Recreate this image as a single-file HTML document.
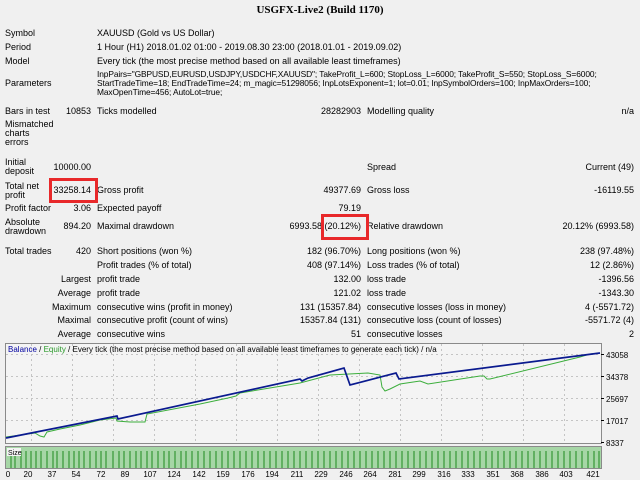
<!DOCTYPE html><html><head><meta charset="utf-8"><style>
body{margin:0;width:640px;height:480px;background:#f0f0f0;font-family:"Liberation Sans",sans-serif;font-size:9px;color:#000;position:relative;overflow:hidden}
.t{position:absolute;white-space:nowrap;line-height:9px}
.r{text-align:right}
.p{font-size:8.4px;letter-spacing:-0.1px}
.box{position:absolute;border:3px solid #e8282a}
</style></head><body>
<div class="t" style="left:0;width:640px;top:6px;text-align:center;font-family:'Liberation Serif',serif;font-weight:bold;font-size:11px">USGFX-Live2 (Build 1170)</div>

<div class="t" style="left:5px;top:29px">Symbol</div><div class="t" style="left:97px;top:29px">XAUUSD (Gold vs US Dollar)</div>
<div class="t" style="left:5px;top:43px">Period</div><div class="t" style="left:97px;top:43px">1 Hour (H1) 2018.01.02 01:00 - 2019.08.30 23:00 (2018.01.01 - 2019.09.02)</div>
<div class="t" style="left:5px;top:57px">Model</div><div class="t" style="left:97px;top:57px">Every tick (the most precise method based on all available least timeframes)</div>
<div class="t" style="left:5px;top:79px">Parameters</div>
<div class="t p" style="left:97px;top:70px">InpPairs="GBPUSD,EURUSD,USDJPY,USDCHF,XAUUSD"; TakeProfit_L=600; StopLoss_L=6000; TakeProfit_S=550; StopLoss_S=6000;</div>
<div class="t p" style="left:97px;top:79px">StartTradeTime=18; EndTradeTime=24; m_magic=51298056; InpLotsExponent=1; lot=0.01; InpSymbolOrders=100; InpMaxOrders=100;</div>
<div class="t p" style="left:97px;top:88px">MaxOpenTime=456; AutoLot=true;</div>

<div class="t" style="left:5px;top:107px">Bars in test</div><div class="t r" style="right:549px;top:107px">10853</div>
<div class="t" style="left:97px;top:107px">Ticks modelled</div><div class="t r" style="right:279px;top:107px">28282903</div>
<div class="t" style="left:367px;top:107px">Modelling quality</div><div class="t r" style="right:6px;top:107px">n/a</div>
<div class="t" style="left:5px;top:120px;line-height:9px">Mismatched<br>charts<br>errors</div>

<div class="t" style="left:5px;top:158px">Initial<br>deposit</div><div class="t r" style="right:549px;top:163px">10000.00</div>
<div class="t" style="left:367px;top:163px">Spread</div><div class="t r" style="right:6px;top:163px">Current (49)</div>

<div class="t" style="left:5px;top:182px">Total net<br>profit</div><div class="t r" style="right:549px;top:186px">33258.14</div>
<div class="t" style="left:97px;top:186px">Gross profit</div><div class="t r" style="right:279px;top:186px">49377.69</div>
<div class="t" style="left:367px;top:186px">Gross loss</div><div class="t r" style="right:6px;top:186px">-16119.55</div>

<div class="t" style="left:5px;top:204px">Profit factor</div><div class="t r" style="right:549px;top:204px">3.06</div>
<div class="t" style="left:97px;top:204px">Expected payoff</div><div class="t r" style="right:279px;top:204px">79.19</div>

<div class="t" style="left:5px;top:218px">Absolute<br>drawdown</div><div class="t r" style="right:549px;top:222px">894.20</div>
<div class="t" style="left:97px;top:222px">Maximal drawdown</div><div class="t r" style="right:279px;top:222px">6993.58 (20.12%)</div>
<div class="t" style="left:367px;top:222px">Relative drawdown</div><div class="t r" style="right:6px;top:222px">20.12% (6993.58)</div>

<div class="t" style="left:5px;top:247px">Total trades</div><div class="t r" style="right:549px;top:247px">420</div>
<div class="t" style="left:97px;top:247px">Short positions (won %)</div><div class="t r" style="right:279px;top:247px">182 (96.70%)</div>
<div class="t" style="left:367px;top:247px">Long positions (won %)</div><div class="t r" style="right:6px;top:247px">238 (97.48%)</div>

<div class="t" style="left:97px;top:261px">Profit trades (% of total)</div><div class="t r" style="right:279px;top:261px">408 (97.14%)</div>
<div class="t" style="left:367px;top:261px">Loss trades (% of total)</div><div class="t r" style="right:6px;top:261px">12 (2.86%)</div>

<div class="t r" style="right:549px;top:275px">Largest</div><div class="t" style="left:97px;top:275px">profit trade</div><div class="t r" style="right:279px;top:275px">132.00</div>
<div class="t" style="left:367px;top:275px">loss trade</div><div class="t r" style="right:6px;top:275px">-1396.56</div>

<div class="t r" style="right:549px;top:289px">Average</div><div class="t" style="left:97px;top:289px">profit trade</div><div class="t r" style="right:279px;top:289px">121.02</div>
<div class="t" style="left:367px;top:289px">loss trade</div><div class="t r" style="right:6px;top:289px">-1343.30</div>

<div class="t r" style="right:549px;top:303px">Maximum</div><div class="t" style="left:97px;top:303px">consecutive wins (profit in money)</div><div class="t r" style="right:279px;top:303px">131 (15357.84)</div>
<div class="t" style="left:367px;top:303px">consecutive losses (loss in money)</div><div class="t r" style="right:6px;top:303px">4 (-5571.72)</div>

<div class="t r" style="right:549px;top:316px">Maximal</div><div class="t" style="left:97px;top:316px">consecutive profit (count of wins)</div><div class="t r" style="right:279px;top:316px">15357.84 (131)</div>
<div class="t" style="left:367px;top:316px">consecutive loss (count of losses)</div><div class="t r" style="right:6px;top:316px">-5571.72 (4)</div>

<div class="t r" style="right:549px;top:330px">Average</div><div class="t" style="left:97px;top:330px">consecutive wins</div><div class="t r" style="right:279px;top:330px">51</div>
<div class="t" style="left:367px;top:330px">consecutive losses</div><div class="t r" style="right:6px;top:330px">2</div>

<div class="box" style="left:49px;top:178px;width:43px;height:19px"></div>
<div class="box" style="left:321px;top:214px;width:42px;height:20px"></div>

<svg style="position:absolute;left:0;top:0" width="640" height="480">
<rect x="5.5" y="343.5" width="596" height="100" fill="#f4f4f4" stroke="#8a8a8a"/>
<g stroke="#c4c4c4" stroke-dasharray="2,3">
<line x1="6" x2="601" y1="376.5" y2="376.5"/><line x1="6" x2="601" y1="398.5" y2="398.5"/><line x1="6" x2="601" y1="420.5" y2="420.5"/><line x1="6" x2="601" y1="354.5" y2="354.5"/>
<line x1="31.5" x2="31.5" y1="344" y2="443"/><line x1="72.5" x2="72.5" y1="344" y2="443"/><line x1="113.5" x2="113.5" y1="344" y2="443"/><line x1="154.5" x2="154.5" y1="344" y2="443"/><line x1="195.5" x2="195.5" y1="344" y2="443"/><line x1="236.5" x2="236.5" y1="344" y2="443"/><line x1="277.5" x2="277.5" y1="344" y2="443"/><line x1="318.5" x2="318.5" y1="344" y2="443"/><line x1="359.5" x2="359.5" y1="344" y2="443"/><line x1="400.5" x2="400.5" y1="344" y2="443"/><line x1="441.5" x2="441.5" y1="344" y2="443"/><line x1="482.5" x2="482.5" y1="344" y2="443"/><line x1="523.5" x2="523.5" y1="344" y2="443"/><line x1="564.5" x2="564.5" y1="344" y2="443"/>
</g>
<text x="8" y="352" font-size="8" font-family="Liberation Sans,sans-serif"><tspan fill="#0000a0">Balance</tspan> / <tspan fill="#2a9a2a">Equity</tspan> / Every tick (the most precise method based on all available least timeframes to generate each tick) / n/a</text>
<polyline fill="none" stroke="#3cae3c" stroke-width="1" points="6,437 35,433 40,436 44,437 47,432 60,429 80,425 100,420 116,418 117,421 130,422 145,422 147,414 200,404 228,398 236,396 240,393 300,383 330,375 368,373 380,375 382,387 385,391 390,389 400,384 420,381 428,384 480,376 484,376 487,379 490,379 580,357 590,354 600,353"/>
<polyline fill="none" stroke="#0a1a8f" stroke-width="1.7" points="6,438 117,416 118,419 300,379 302,381 308,378 344,368 350,385 396,373 399,379 600,353"/>
<rect x="5.5" y="446.5" width="596" height="22" fill="#a6d6a6" stroke="#8a8a8a"/>
<g stroke="#1d8a1d" stroke-width="1">
<path d="M11 451V468M15 451V468M21 451V468M26 451V468M31 451V468M36 451V468M41 451V468M47 451V468M53 451V468M57 451V468M63 451V468M69 451V468M74 451V468M79 451V468M84 451V468M90 451V468M96 451V468M101 451V468M106 451V468M113 451V468M119 451V468M124 451V468M130 451V468M136 451V468M141 451V468M147 451V468M152 451V468M158 451V468M164 451V468M169 451V468M175 451V468M181 451V468M186 451V468M192 451V468M198 451V468M204 451V468M210 451V468M216 451V468M222 451V468M228 451V468M234 451V468M240 451V468M246 451V468M252 451V468M258 451V468M264 451V468M270 451V468M276 451V468M282 451V468M288 451V468M294 451V468M300 451V468M306 451V468M312 451V468M318 451V468M324 451V468M330 451V468M336 451V468M342 451V468M348 451V468M354 451V468M360 451V468M366 451V468M372 451V468M378 451V468M384 451V468M390 451V468M396 451V468M402 451V468M408 451V468M414 451V468M420 451V468M426 451V468M432 451V468M438 451V468M444 451V468M450 451V468M456 451V468M462 451V468M468 451V468M474 451V468M480 451V468M486 451V468M492 451V468M498 451V468M504 451V468M510 451V468M516 451V468M522 451V468M528 451V468M534 451V468M540 451V468M546 451V468M552 451V468M558 451V468M564 451V468M570 451V468M576 451V468M582 451V468M588 451V468M594 451V468M599 451V468"/>
</g>
<rect x="7" y="448" width="14" height="8" fill="#f4f4f4"/>
<text x="8" y="455" font-size="7" font-family="Liberation Sans,sans-serif">Size</text>
<g font-size="8" font-family="Liberation Sans,sans-serif" fill="#000">
<text x="606" y="358">43058</text><text x="606" y="380">34378</text><text x="606" y="402">25697</text><text x="606" y="424">17017</text><text x="606" y="446">8337</text>
</g>
<g stroke="#000"><line x1="601" x2="604" y1="354.5" y2="354.5"/><line x1="601" x2="604" y1="376.5" y2="376.5"/><line x1="601" x2="604" y1="398.5" y2="398.5"/><line x1="601" x2="604" y1="420.5" y2="420.5"/><line x1="601" x2="604" y1="442.5" y2="442.5"/></g>
<g font-size="8" font-family="Liberation Sans,sans-serif" text-anchor="middle">
<text x="8" y="477">0</text><text x="28" y="477">20</text><text x="52" y="477">37</text><text x="76" y="477">54</text><text x="101" y="477">72</text><text x="125" y="477">89</text><text x="150" y="477">107</text><text x="174" y="477">124</text><text x="199" y="477">142</text><text x="223" y="477">159</text><text x="248" y="477">176</text><text x="272" y="477">194</text><text x="297" y="477">211</text><text x="321" y="477">229</text><text x="346" y="477">246</text><text x="370" y="477">264</text><text x="395" y="477">281</text><text x="419" y="477">299</text><text x="444" y="477">316</text><text x="468" y="477">333</text><text x="493" y="477">351</text><text x="517" y="477">368</text><text x="542" y="477">386</text><text x="566" y="477">403</text><text x="593" y="477">421</text>
</g>
</svg>
</body></html>
